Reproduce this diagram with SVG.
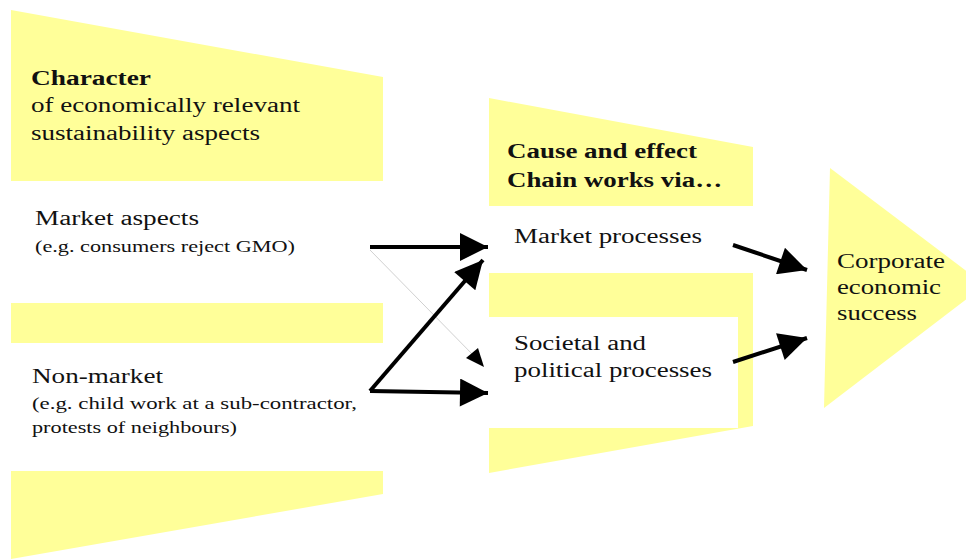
<svg xmlns="http://www.w3.org/2000/svg" width="966" height="559" viewBox="0 0 966 559">
<defs>
<style>
.band{fill:#FFFF99}
.box{fill:#FFFFFF}
.h{font-weight:bold;font-size:20px}
.t{font-size:20px}
.s{font-size:16px}
.c{stroke:#000;stroke-width:4;fill:none}
.thin{stroke:#d0d0d0;stroke-width:1;fill:none}
</style>
<marker id="ah" viewBox="0 0 10 10" refX="10" refY="5" markerWidth="7.5" markerHeight="7" markerUnits="strokeWidth" orient="auto">
<path d="M0,0 L10,5 L0,10 z" fill="#000"/>
</marker>
</defs>
<rect width="966" height="559" fill="#fff"/>
<g font-family="'Liberation Serif', 'DejaVu Serif', serif" fill="#111">

<g id="character">
<polygon class="band" points="11,10 383,77 383,494 11,559"/>
<text class="h" x="31" y="85" textLength="120" lengthAdjust="spacingAndGlyphs">Character</text>
<text class="t" x="31" y="112" textLength="269" lengthAdjust="spacingAndGlyphs">of economically relevant</text>
<text class="t" x="31" y="140" textLength="229" lengthAdjust="spacingAndGlyphs">sustainability aspects</text>
</g>

<g id="market-aspects">
<rect class="box" x="11" y="181" width="372" height="122"/>
<text class="t" x="35" y="225" textLength="164" lengthAdjust="spacingAndGlyphs">Market aspects</text>
<text class="s" x="35" y="252" textLength="260" lengthAdjust="spacingAndGlyphs">(e.g. consumers reject GMO)</text>
</g>

<g id="non-market">
<rect class="box" x="11" y="343" width="372" height="128"/>
<text class="t" x="32" y="383" textLength="131" lengthAdjust="spacingAndGlyphs">Non-market</text>
<text class="s" x="32" y="409" textLength="325" lengthAdjust="spacingAndGlyphs">(e.g. child work at a sub-contractor,</text>
<text class="s" x="32" y="433" textLength="205" lengthAdjust="spacingAndGlyphs">protests of neighbours)</text>
</g>

<g id="cause-effect">
<polygon class="band" points="489,98 753,147 753,426 489,473"/>
<text class="h" x="507" y="158" textLength="190" lengthAdjust="spacingAndGlyphs">Cause and effect</text>
<text class="h" x="507" y="187" textLength="215" lengthAdjust="spacingAndGlyphs">Chain works via…</text>
</g>

<g id="market-processes">
<rect class="box" x="489" y="206" width="264" height="67"/>
<text class="t" x="514" y="243" textLength="188" lengthAdjust="spacingAndGlyphs">Market processes</text>
</g>

<g id="societal-processes">
<rect class="box" x="489" y="317" width="249" height="111"/>
<text class="t" x="514" y="350" textLength="132" lengthAdjust="spacingAndGlyphs">Societal and</text>
<text class="t" x="514" y="377" textLength="198" lengthAdjust="spacingAndGlyphs">political processes</text>
</g>

<g id="corporate-success">
<polygon class="band" points="830,168 985,285 824,408"/>
<text class="t" x="837" y="268" textLength="108" lengthAdjust="spacingAndGlyphs">Corporate</text>
<text class="t" x="837" y="294" textLength="104" lengthAdjust="spacingAndGlyphs">economic</text>
<text class="t" x="837" y="320" textLength="80" lengthAdjust="spacingAndGlyphs">success</text>
</g>
</g>

<g id="connectors">
<line class="thin" x1="370" y1="250" x2="476" y2="358"/>
<path d="M484,367 L466,358 L478,348 z" fill="#000"/>
<line class="c" x1="370" y1="247" x2="488" y2="247" marker-end="url(#ah)"/>
<line class="c" x1="370" y1="391" x2="483" y2="260" marker-end="url(#ah)"/>
<line class="c" x1="370" y1="391" x2="488" y2="393" marker-end="url(#ah)"/>
<line class="c" x1="733" y1="245" x2="807" y2="270" marker-end="url(#ah)"/>
<line class="c" x1="733" y1="362" x2="807" y2="338" marker-end="url(#ah)"/>
</g>
</svg>
